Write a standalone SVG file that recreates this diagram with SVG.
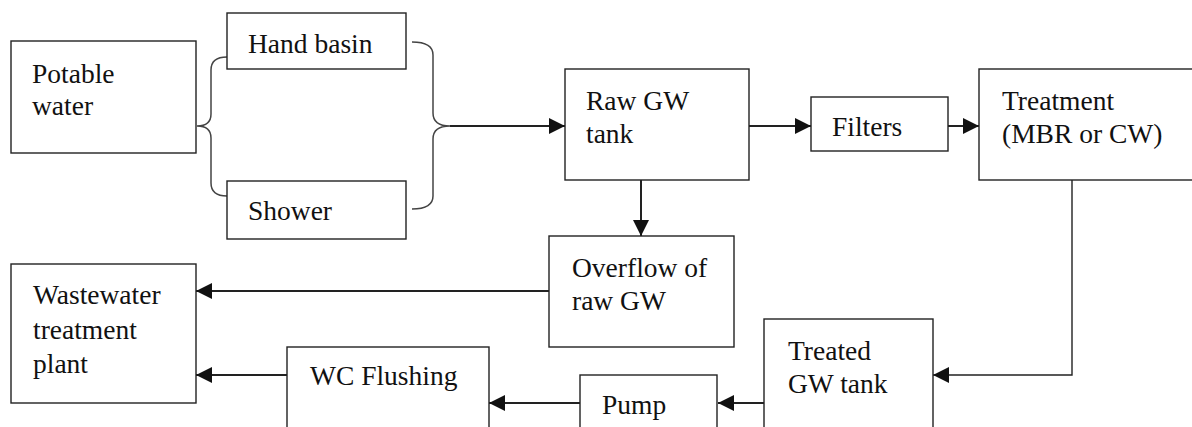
<svg xmlns="http://www.w3.org/2000/svg" width="1192" height="427" viewBox="0 0 1192 427">
<style>
.box{fill:#fff;stroke:#222;stroke-width:1.4}
text{font-family:'Liberation Serif','Times New Roman',Times,'Noto Serif','DejaVu Serif',FreeSerif,serif;font-size:27.5px;fill:#111}
.c{fill:none;stroke:#222;stroke-width:2}
.thin{fill:none;stroke:#222;stroke-width:1.4}
.brace{fill:none;stroke:#444;stroke-width:1.5}
</style>
<defs>
<marker id="ah" markerUnits="userSpaceOnUse" markerWidth="16" markerHeight="16" refX="16" refY="8" orient="auto">
<path d="M0,0 L16,8 L0,16 z" fill="#111"/>
</marker>
</defs>
<rect width="1192" height="427" fill="#fff"/>
<g id="connectors">
<path class="brace" d="M227,57 Q211,57 211,70 L211,114 Q211,126 197,126 Q211,126 211,138 L211,183 Q211,196 227,196"/>
<path class="brace" d="M412,42 Q433,42 433,55 L433,113 Q433,126 450,126 Q433,126 433,139 L433,196 Q433,209 412,209"/>
<path class="c" d="M450,126 H565" marker-end="url(#ah)"/>
<path class="c" d="M749,126 H811" marker-end="url(#ah)"/>
<path class="c" d="M948,126 H979" marker-end="url(#ah)"/>
<path class="c" d="M641,180 V236" marker-end="url(#ah)"/>
<path class="c" d="M549,291 H196" marker-end="url(#ah)"/>
<path class="c" d="M287,375 H196" marker-end="url(#ah)"/>
<path class="c" d="M580,403 H489" marker-end="url(#ah)"/>
<path class="c" d="M764,403 H718" marker-end="url(#ah)"/>
<path class="thin" d="M1072,180 V375 H933" marker-end="url(#ah)"/>
</g>
<g id="potable">
<rect class="box" x="11" y="41" width="185" height="112"/>
<text x="32" y="83">Potable</text>
<text x="32" y="115">water</text>
</g>
<g id="handbasin">
<rect class="box" x="227" y="13" width="179" height="56"/>
<text x="248" y="53">Hand basin</text>
</g>
<g id="shower">
<rect class="box" x="227" y="181" width="179" height="58"/>
<text x="248" y="220">Shower</text>
</g>
<g id="rawtank">
<rect class="box" x="565" y="69" width="184" height="111"/>
<text x="586" y="110">Raw GW</text>
<text x="586" y="143">tank</text>
</g>
<g id="filters">
<rect class="box" x="811" y="97" width="137" height="54"/>
<text x="832" y="136">Filters</text>
</g>
<g id="treatment">
<rect class="box" x="979" y="69" width="230" height="111"/>
<text x="1002" y="110">Treatment</text>
<text x="1002" y="143">(MBR or CW)</text>
</g>
<g id="overflow">
<rect class="box" x="549" y="236" width="185" height="111"/>
<text x="572" y="277">Overflow of</text>
<text x="572" y="310">raw GW</text>
</g>
<g id="wwtp">
<rect class="box" x="11" y="264" width="185" height="139"/>
<text x="33" y="304">Wastewater</text>
<text x="33" y="338.5">treatment</text>
<text x="33" y="373">plant</text>
</g>
<g id="wc">
<rect class="box" x="287" y="347" width="202" height="100"/>
<text x="310" y="385">WC Flushing</text>
</g>
<g id="pump">
<rect class="box" x="580" y="375" width="137" height="60"/>
<text x="602" y="414">Pump</text>
</g>
<g id="treated">
<rect class="box" x="764" y="319" width="169" height="120"/>
<text x="788" y="360">Treated</text>
<text x="788" y="393">GW tank</text>
</g>
</svg>
